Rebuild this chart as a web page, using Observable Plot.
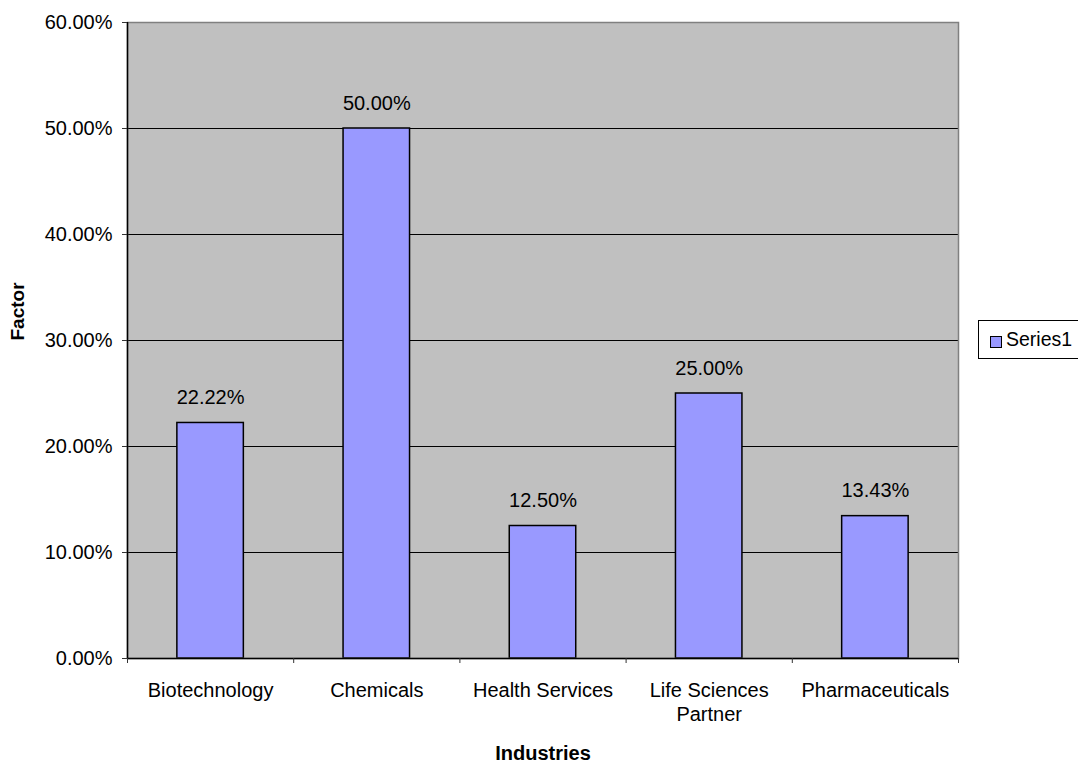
<!DOCTYPE html>
<html><head><meta charset="utf-8">
<script src="https://cdn.jsdelivr.net/npm/d3@7"></script>
<script src="https://cdn.jsdelivr.net/npm/@observablehq/plot@0.6"></script>
<style>
body{margin:0;background:#fff;font-family:"Liberation Sans",Arial,sans-serif;}
#wrap{position:relative;width:1078px;height:763px;overflow:hidden;}
#wrap svg{display:block;}
#legend{position:absolute;left:978px;top:320px;width:120px;height:39px;border:1px solid #000;background:#fff;box-sizing:border-box;font-size:19.5px;}
#legend .sw{position:absolute;left:11px;top:15px;width:12px;height:12px;background:#9999ff;border:1.5px solid #000;box-sizing:border-box;}
#legend .tx{position:absolute;left:27px;top:7px;line-height:22px;}
</style></head><body><div id="wrap"></div><script>
const categories = ["Biotechnology", "Chemicals", "Health Services", "Life Sciences\nPartner", "Pharmaceuticals"];
const values = [0.2222, 0.5, 0.125, 0.25, 0.1343];
const valueLabels = ["22.22%", "50.00%", "12.50%", "25.00%", "13.43%"];
const yTicks = [0, 0.1, 0.2, 0.3, 0.4, 0.5, 0.6];
const seriesName = "Series1";
const xTitle = "Industries";
const yTitle = "Factor";

const data = categories.map((c, i) => ({i, category: c, value: values[i], label: valueLabels[i]}));
const slots = d3.range(categories.length + 1);

const chart = Plot.plot({
  width: 1078,
  height: 763,
  marginLeft: 127,
  marginRight: 120,
  marginTop: 22,
  marginBottom: 105,
  x: {type: "linear", domain: [0, categories.length], label: null},
  y: {domain: [0, 0.6], label: null},
  style: {fontFamily: "'Liberation Sans', Arial, sans-serif", fontSize: "20px", color: "#000", background: "#fff", overflow: "visible"},
  marks: [
    Plot.frame({fill: "#c0c0c0"}),
    Plot.ruleY(yTicks.filter(t => t > 0 && t < 0.6), {stroke: "#000", strokeWidth: 1}),
    Plot.rectY(data, {x1: d => d.i + 0.3, x2: d => d.i + 0.7, y: "value", fill: "#9999ff", stroke: "#000", strokeWidth: 1.5}),
    Plot.frame({stroke: "#808080", strokeWidth: 1.5}),
    Plot.ruleX([0], {stroke: "#000", strokeWidth: 1.5}),
    Plot.ruleY([0], {stroke: "#000", strokeWidth: 1.5}),
    Plot.axisY({ticks: yTicks, tickFormat: d3.format(".2%"), tickSize: 5, tickPadding: 10, stroke: "#333", fontSize: 20, label: null}),
    Plot.axisX({ticks: slots, tickFormat: () => "", tickSize: 5, stroke: "#333", label: null}),
    Plot.text(data, {x: d => d.i + 0.5, y: 0, text: "category", lineAnchor: "top", dy: 21, lineHeight: 1.2, fontSize: 20}),
    Plot.text(data, {x: d => d.i + 0.5, y: "value", text: "label", lineAnchor: "bottom", dy: -19, fontSize: 20}),
    Plot.text([xTitle], {frameAnchor: "bottom", lineAnchor: "bottom", dy: 101, fontWeight: "bold", fontSize: 20, style: "letter-spacing:0.8px"}),
    Plot.text([yTitle], {frameAnchor: "left", dx: -110, rotate: -90, fontWeight: "bold", fontSize: 19})
  ]
});
const wrap = document.getElementById("wrap");
wrap.appendChild(chart);
const lg = document.createElement("div");
lg.id = "legend";
lg.innerHTML = '<div class="sw"></div><div class="tx"></div>';
lg.querySelector(".tx").textContent = seriesName;
wrap.appendChild(lg);
</script></body></html>
